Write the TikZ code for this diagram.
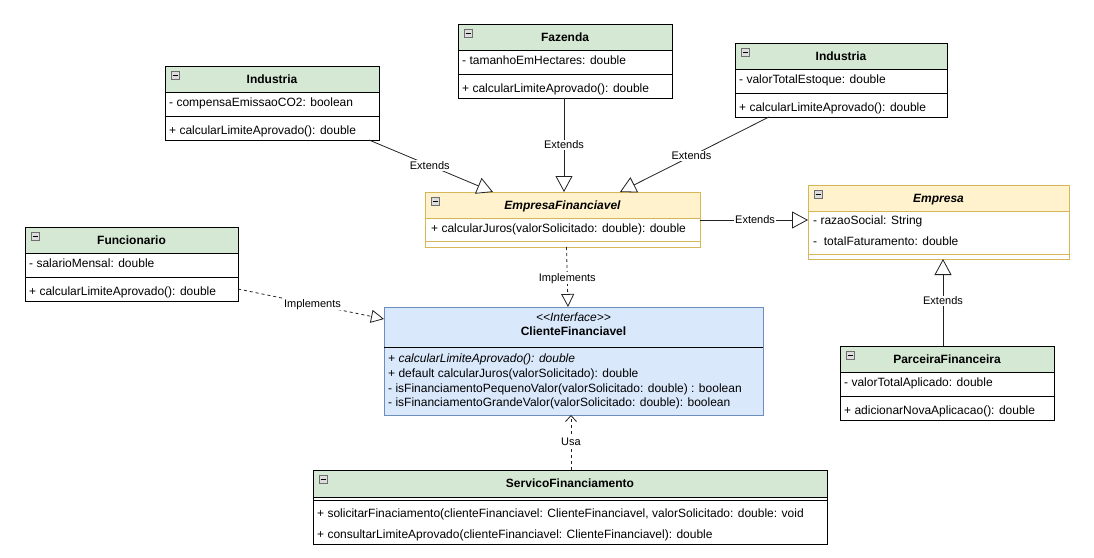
\documentclass[tikz,border=0pt]{standalone}
\usepackage{fontspec}
\setmainfont{Liberation Sans}
\usetikzlibrary{arrows.meta,calc}

\definecolor{hdrgreen}{HTML}{D5E8D4}
\definecolor{hdryellow}{HTML}{FFF2CC}
\definecolor{bdryellow}{HTML}{D6B656}
\definecolor{fillblue}{HTML}{DAE8FC}
\definecolor{bdrblue}{HTML}{6C8EBF}
\definecolor{iconfill}{HTML}{DDDDDD}
\definecolor{icondraw}{HTML}{6E6E6E}
\definecolor{edgecol}{HTML}{222222}

\tikzset{
  classbox/.style={draw=black, line width=0.9pt, inner sep=0pt, outer sep=0pt, anchor=north west},
  rule/.style={draw=black, line width=0.9pt},
  member/.style={font=\fontsize{12}{14}\selectfont, inner sep=0pt, anchor=base west},
  title/.style={font=\fontsize{12}{14}\selectfont\bfseries, inner sep=0pt, anchor=base},
  elabel/.style={font=\fontsize{11}{13}\selectfont, fill=white, inner sep=1pt},
  extends/.style={draw=edgecol, line width=0.8pt, -{Triangle[fill=white, length=16pt, width=17pt]}},
  implements/.style={draw=edgecol, line width=0.8pt, dash pattern=on 3pt off 3pt,
    -{Triangle[fill=white, length=13pt, width=13pt]}},
  uses/.style={draw=edgecol, line width=0.8pt, dash pattern=on 3pt off 3pt,
    -{Straight Barb[length=6pt, width=11pt]}},
}

% small collapse box in the top left corner of a class header
\newcommand{\collapseicon}[2]{%
  \draw[fill=iconfill, draw=icondraw, line width=0.6pt] (#1+6,#2+5) rectangle ++(8,8);
  \draw[line width=0.8pt] (#1+7.5,#2+9) -- ++(5,0);
}

% class with green header, one attribute and one operation
\newcommand{\greenclass}[7]{%
  \fill[hdrgreen] (#2,#3) rectangle ++(#4,26);
  \node[classbox, minimum width=#4pt, minimum height=74pt] (#1) at (#2,#3) {};
  \draw[rule] (#2,#3+26) -- ++(#4,0) (#2,#3+50) -- ++(#4,0);
  \collapseicon{#2}{#3}
  \node[title] (#1-title) at (#2+#4/2,#3+17.5) {#5};
  \node[member] (#1-attr) at (#2+4,#3+40) {#6};
  \node[member] (#1-op) at (#2+4,#3+68) {#7};
}

\begin{document}
\begin{tikzpicture}[x=1pt,y=-1pt]
\useasboundingbox (0,0) rectangle (1094,557);
\fill[white] (0,0) rectangle (1094,557);

% ---- concrete clients and partners
\greenclass{ind1}{165}{66}{214}{Industria}{- compensaEmissaoCO2: boolean}{+ calcularLimiteAprovado(): double}
\greenclass{faz}{458}{24}{214}{Fazenda}{- tamanhoEmHectares: double}{+ calcularLimiteAprovado(): double}
\greenclass{ind2}{735}{43}{212}{Industria}{- valorTotalEstoque: double}{+ calcularLimiteAprovado(): double}
\greenclass{func}{25}{227}{213}{Funcionario}{- salarioMensal: double}{+ calcularLimiteAprovado(): double}
\greenclass{parc}{840}{346}{214}{ParceiraFinanceira}{- valorTotalAplicado: double}{+ adicionarNovaAplicacao(): double}

% ---- abstract class EmpresaFinanciavel
\fill[hdryellow] (425,192) rectangle (700,218);
\node[classbox, draw=bdryellow, minimum width=275pt, minimum height=55pt] (ef) at (425,192) {};
\draw[rule, draw=bdryellow] (425,218) -- (700,218) (425,241) -- (700,241);
\collapseicon{425}{192}
\node[title, font=\fontsize{12}{14}\selectfont\bfseries\itshape] (ef-title) at (562.5,209.5) {EmpresaFinanciavel};
\node[member] (ef-op) at (431,232) {+ calcularJuros(valorSolicitado: double): double};

% ---- abstract class Empresa
\fill[hdryellow] (808,185) rectangle (1069,211);
\node[classbox, draw=bdryellow, minimum width=261pt, minimum height=74pt] (emp) at (808,185) {};
\draw[rule, draw=bdryellow] (808,211) -- (1069,211) (808,254) -- (1069,254);
\collapseicon{808}{185}
\node[title, font=\fontsize{12}{14}\selectfont\bfseries\itshape] (emp-title) at (938.5,202.5) {Empresa};
\node[member] (emp-attr1) at (813,224) {- razaoSocial: String};
\node[member] (emp-attr2) at (813,245) {-\ \ totalFaturamento: double};

% ---- interface ClienteFinanciavel
\node[classbox, draw=bdrblue, fill=fillblue, minimum width=379pt, minimum height=108pt] (cli) at (384,307) {};
\draw[rule] (384,347) -- (763,347);
\node[member, anchor=base, font=\fontsize{12}{14}\selectfont\itshape] (cli-stereo) at (573.5,321) {<{}<Interface>{}>};
\node[title] (cli-title) at (573.5,335.5) {ClienteFinanciavel};
\node[member, font=\fontsize{12}{14}\selectfont\itshape] (cli-op1) at (388,362) {+ calcularLimiteAprovado(): double};
\node[member] (cli-op2) at (388,377) {+ default calcularJuros(valorSolicitado): double};
\node[member] (cli-op3) at (388,392) {- isFinanciamentoPequenoValor(valorSolicitado: double) : boolean};
\node[member] (cli-op4) at (388,406) {- isFinanciamentoGrandeValor(valorSolicitado: double): boolean};

% ---- service class
\fill[hdrgreen] (313,470) rectangle (827,497);
\node[classbox, minimum width=514pt, minimum height=74pt] (serv) at (313,470) {};
\draw[rule] (313,497) -- (827,497) (313,500) -- (827,500);
\collapseicon{313}{470}
\node[title] (serv-title) at (570,487.5) {ServicoFinanciamento};
\node[member] (serv-op1) at (317,517) {+ solicitarFinaciamento(clienteFinanciavel: ClienteFinanciavel, valorSolicitado: double: void};
\node[member] (serv-op2) at (317,538) {+ consultarLimiteAprovado(clienteFinanciavel: ClienteFinanciavel): double};

% ---- generalisations
\draw[extends] ([xshift=97pt]ind1.south) -- node[elabel, pos=0.49] (l1) {Extends} ([xshift=-69.5pt]ef.north);
\draw[extends] ([xshift=-1pt]faz.south) -- node[elabel, pos=0.5] (l2) {Extends} ([xshift=1.5pt]ef.north);
\draw[extends] ([xshift=-72pt]ind2.south) -- node[elabel, pos=0.52] (l3) {Extends} ([xshift=57.5pt]ef.north);
\draw[extends] ([yshift=-0.5pt]ef.east) -- node[elabel, pos=0.51] (l4) {Extends} ([yshift=-0.5pt]ef.east -| emp.west);
\coordinate (pe) at ([xshift=-4pt]parc.north);
\draw[extends] (pe) -- node[elabel, pos=0.52] (l5) {Extends} (pe |- emp.south);

% ---- realisations and dependency
\draw[implements] ([yshift=12pt]func.south east) -- node[elabel, pos=0.51] (l6) {Implements} ([yshift=-12pt]cli.north west);
\draw[implements] ([xshift=4pt]ef.south) -- node[elabel, pos=0.52] (l7) {Implements} ([xshift=-5.5pt]cli.north);
\coordinate (sc) at ([xshift=1pt]serv.north);
\draw[uses] (sc) -- node[elabel, pos=0.51] (l8) {Usa} (sc |- cli.south);
\end{tikzpicture}
\end{document}
